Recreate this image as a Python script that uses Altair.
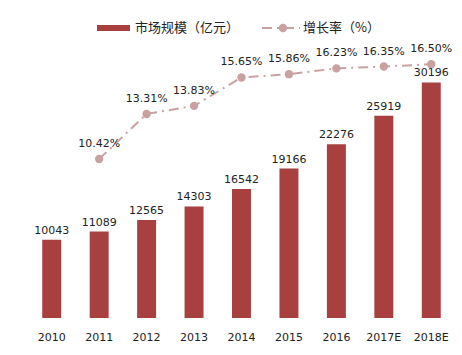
import altair as alt
import pandas as pd

years = ["2010", "2011", "2012", "2013", "2014", "2015", "2016", "2017E", "2018E"]
market = [10043, 11089, 12565, 14303, 16542, 19166, 22276, 25919, 30196]
growth = [None, 10.42, 13.31, 13.83, 15.65, 15.86, 16.23, 16.35, 16.50]

bar_label = "市场规模（亿元）"
line_label = "增长率（%）"

BAR_COLOR = "#A8403F"
LINE_COLOR = "#C9A1A1"
NUM_FONT = "DejaVu Sans"
CJK_FONT = "Noto Sans CJK SC"

df = pd.DataFrame({"year": years, "market": market, "growth": growth})
df["growth_label"] = df["growth"].map(lambda v: "" if pd.isna(v) else f"{v:.2f}%")

x = alt.X("year:N", sort=years, title=None,
          scale=alt.Scale(paddingInner=0.6, paddingOuter=0.3),
          axis=alt.Axis(labelAngle=0, domain=False, ticks=False, labelPadding=13,
                        labelFont=NUM_FONT, labelFontSize=11, labelColor="#222222"))

base = alt.Chart(df)

y_bar = alt.Y("market:Q", scale=alt.Scale(domain=[0, 35000]), axis=None)
bars = base.mark_bar(color=BAR_COLOR).encode(x=x, y=y_bar)
bar_text = base.mark_text(baseline="bottom", dy=-4, font=NUM_FONT, fontSize=11,
                          color="#222222").encode(x=x, y=y_bar, text="market:Q")

line_base = base.transform_filter("datum.growth != null")
y_line = alt.Y("growth:Q", scale=alt.Scale(domain=[0.23, 17.73]), axis=None)
line = line_base.mark_line(color=LINE_COLOR, strokeWidth=2,
                           strokeDash=[10, 5, 2, 5]).encode(x=x, y=y_line)
pts = line_base.mark_circle(color=LINE_COLOR, size=70, opacity=1).encode(x=x, y=y_line)
pct_text = line_base.mark_text(baseline="alphabetic", dy=-12, font=NUM_FONT, fontSize=11,
                               color="#222222").encode(x=x, y=y_line, text="growth_label:N")

leg_rect = alt.Chart(pd.DataFrame({"k": [0]})).mark_rect(color=BAR_COLOR).encode(
    x=alt.value(69), x2=alt.value(102), y=alt.value(-20), y2=alt.value(-14))
leg_text1 = alt.Chart(pd.DataFrame({"t": [bar_label]})).mark_text(
    align="left", baseline="middle", font=CJK_FONT, fontSize=13, color="#222222").encode(
    x=alt.value(107), y=alt.value(-17), text="t:N")
leg_line = alt.Chart(pd.DataFrame({"k": [0]})).mark_rule(
    color=LINE_COLOR, strokeWidth=2, strokeDash=[10, 5, 2, 5]).encode(
    x=alt.value(234), x2=alt.value(272), y=alt.value(-17))
leg_pt = alt.Chart(pd.DataFrame({"k": [0]})).mark_circle(
    color=LINE_COLOR, size=70, opacity=1).encode(x=alt.value(255), y=alt.value(-17))
leg_text2 = alt.Chart(pd.DataFrame({"t": [line_label]})).mark_text(
    align="left", baseline="middle", font=CJK_FONT, fontSize=13, color="#222222").encode(
    x=alt.value(275), y=alt.value(-17), text="t:N")

chart = alt.layer(
    alt.layer(bars, bar_text),
    alt.layer(line, pts, pct_text),
    leg_rect, leg_text1, leg_line, leg_pt, leg_text2,
).resolve_scale(y="independent").properties(
    width=427, height=273,
    autosize=alt.AutoSizeParams(type="none"),
    padding={"left": 28, "top": 45, "right": 7, "bottom": 37},
    background="white",
).configure_view(stroke=None)

chart.save("out.html", embed_options={"renderer": "svg", "actions": False})
